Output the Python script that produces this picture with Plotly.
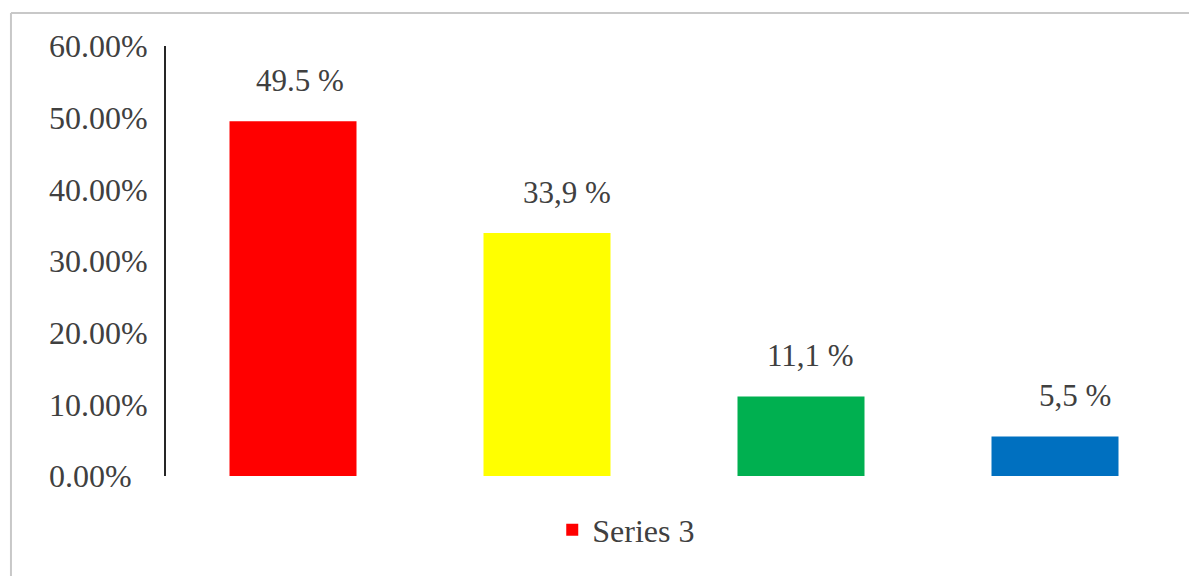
import plotly.graph_objects as go

categories = ["A", "B", "C", "D"]
values = [49.5, 33.9, 11.1, 5.5]
value_labels = ["49.5 %", "33,9 %", "11,1 %", "5,5 %"]
bar_colors = ["#FF0000", "#FFFF00", "#00B050", "#0070C0"]
series_name = "Series 3"
tick_vals = [0, 10, 20, 30, 40, 50, 60]
tick_text = ["0.00%\u00a0\u00a0", "10.00%", "20.00%", "30.00%", "40.00%", "50.00%", "60.00%"]

FONT = "Liberation Serif"
TXT = "#404040"

fig = go.Figure()
fig.add_trace(go.Bar(
    x=categories, y=values, name=series_name,
    marker=dict(color=bar_colors, line=dict(width=0)),
    width=0.5, showlegend=True,
))

label_xshift = [7, 20, 9, 20]
for i, (c, v, t) in enumerate(zip(categories, values, value_labels)):
    fig.add_annotation(x=c, y=v, text=t, showarrow=False, yshift=41,
                       xshift=label_xshift[i],
                       font=dict(family=FONT, size=31, color=TXT))

# outer frame lines (left and top)
for x0, y0, x1, y1 in [(-0.1526, -0.24, -0.1526, 1.0767), (-0.1526, 1.0767, 1.03, 1.0767)]:
    fig.add_shape(type="line", xref="paper", yref="paper", x0=x0, y0=y0, x1=x1, y1=y1,
                  line=dict(color="#c8c8c8", width=2), layer="below")

fig.update_layout(
    width=1189, height=568,
    margin=dict(l=158, r=15, t=38, b=100),
    paper_bgcolor="white", plot_bgcolor="white",
    font=dict(family=FONT, size=32, color=TXT),
    showlegend=True,
    legend=dict(orientation="h", x=0.453, xanchor="center", y=-0.1256, yanchor="middle",
                font=dict(family=FONT, size=32, color=TXT)),
    xaxis=dict(showticklabels=False, showline=False, showgrid=False, zeroline=False,
               ticks="", range=[-0.5, 3.5]),
    yaxis=dict(range=[0, 60], tickvals=tick_vals, ticktext=tick_text, showgrid=False,
               zeroline=False, showline=True, linecolor="#262626", linewidth=2,
               ticks="", ticklabelstandoff=10,
               tickfont=dict(family=FONT, size=32, color=TXT)),
    bargap=0.5,
)

fig.write_html("out.html")
